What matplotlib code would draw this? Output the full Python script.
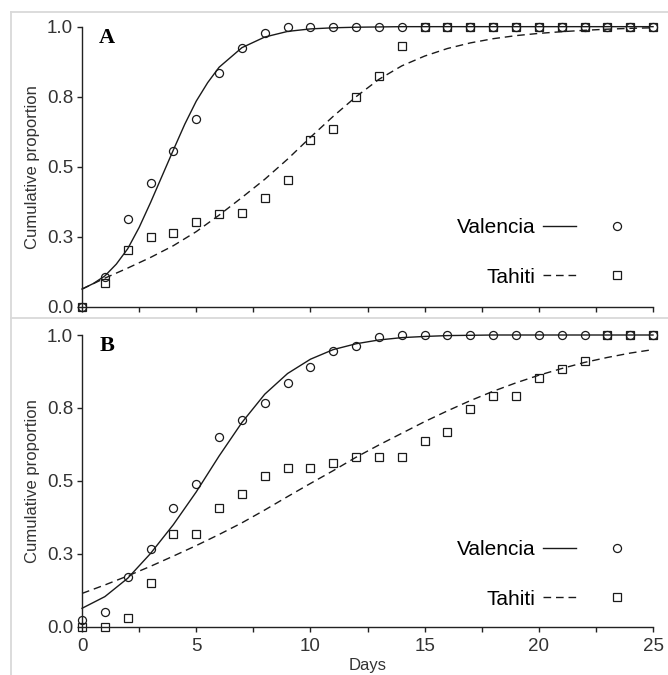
import numpy as np
import matplotlib
matplotlib.use("Agg")
import matplotlib.pyplot as plt
from matplotlib.lines import Line2D
from matplotlib.legend_handler import HandlerTuple
from matplotlib.ticker import MultipleLocator

plt.rcParams['font.family'] = ['Liberation Sans', 'DejaVu Sans']

days = list(range(26))

# panel A observed proportions
valencia_a = [0.0, 0.105, 0.312, 0.44, 0.556, 0.671, 0.833, 0.923, 0.976, 1.0,
              1.0, 1.0, 1.0, 1.0, 1.0, 1.0, 1.0, 1.0, 1.0, 1.0,
              1.0, 1.0, 1.0, 1.0, 1.0, 1.0]
tahiti_a = [0.0, 0.083, 0.202, 0.25, 0.265, 0.304, 0.33, 0.333, 0.387, 0.452,
            0.595, 0.633, 0.75, 0.824, 0.931, 1.0, 1.0, 1.0, 1.0, 1.0,
            1.0, 1.0, 1.0, 1.0, 1.0, 1.0]

# panel A fitted curves
valencia_a_fit_x = [0, 0.5, 1, 1.5, 2, 2.5, 3, 3.5, 4, 4.5, 5, 5.5, 6, 7, 8, 9, 10, 11, 12, 14, 25]
valencia_a_fit = [0.063, 0.083, 0.110, 0.152, 0.207, 0.283, 0.372, 0.466, 0.560, 0.652,
                  0.734, 0.800, 0.855, 0.925, 0.963, 0.983, 0.992, 0.996, 0.998, 1.0, 1.0]
tahiti_a_fit_x = days
tahiti_a_fit = [0.063, 0.102, 0.138, 0.176, 0.218, 0.268, 0.327, 0.39, 0.455, 0.527,
                0.605, 0.68, 0.75, 0.812, 0.86, 0.895, 0.922, 0.942, 0.957, 0.968,
                0.976, 0.982, 0.987, 0.991, 0.994, 0.996]

# panel B observed proportions
valencia_b = [0.023, 0.05, 0.169, 0.267, 0.406, 0.489, 0.649, 0.709, 0.768, 0.834,
              0.889, 0.945, 0.962, 0.994, 1.0, 1.0, 1.0, 1.0, 1.0, 1.0,
              1.0, 1.0, 1.0, 1.0, 1.0, 1.0]
tahiti_b = [0.0, 0.0, 0.031, 0.151, 0.319, 0.319, 0.408, 0.454, 0.517, 0.545,
            0.545, 0.562, 0.581, 0.581, 0.581, 0.638, 0.669, 0.745, 0.791, 0.791,
            0.851, 0.882, 0.912, 1.0, 1.0, 1.0]

# panel B fitted curves
valencia_b_fit_x = days
valencia_b_fit = [0.063, 0.103, 0.166, 0.251, 0.35, 0.462, 0.585, 0.700, 0.797, 0.868,
                  0.917, 0.950, 0.970, 0.983, 0.991, 0.995, 0.998, 0.999, 1.0, 1.0,
                  1.0, 1.0, 1.0, 1.0, 1.0, 1.0]
tahiti_b_fit_x = days
tahiti_b_fit = [0.114, 0.143, 0.174, 0.207, 0.242, 0.278, 0.316, 0.356, 0.400, 0.446,
                0.491, 0.535, 0.581, 0.623, 0.663, 0.703, 0.740, 0.775, 0.807, 0.836,
                0.862, 0.885, 0.906, 0.923, 0.938, 0.950]

y_ticks = [0.0, 0.25, 0.5, 0.75, 1.0]
y_labels = ['0.0', '0.3', '0.5', '0.8', '1.0']
x_ticks = [0, 5, 10, 15, 20, 25]

DASH = (5.5, 3.5)
INK = '#1a1a1a'


def draw_panel(ax, letter, v_obs, t_obs, v_fx, v_fit, t_fx, t_fit, show_x, leg_y):
    ax.plot(v_fx, v_fit, color=INK, lw=1.0, clip_on=False)
    ax.plot(t_fx, t_fit, color=INK, lw=1.0, dashes=DASH, clip_on=False)
    ax.plot(days, v_obs, ls='none', marker='o', ms=5.8, mfc='none', mec=INK,
            mew=0.9, clip_on=False)
    ax.plot(days, t_obs, ls='none', marker='s', ms=5.5, mfc='none', mec=INK,
            mew=0.9, clip_on=False)

    ax.set_xlim(0, 25)
    ax.set_ylim(0, 1)
    for s in ['top', 'right']:
        ax.spines[s].set_visible(False)
    for s in ['left', 'bottom']:
        ax.spines[s].set_linewidth(1.0)
        ax.spines[s].set_color('#222222')

    ax.set_yticks(y_ticks)
    ax.set_yticklabels(y_labels)
    ax.set_xticks(x_ticks)
    ax.xaxis.set_minor_locator(MultipleLocator(2.5))
    ax.tick_params(axis='both', which='both', direction='out', length=3.5,
                   width=1.0, color='#222222', labelsize=13.5, labelcolor='#333333', pad=3)
    ax.tick_params(axis='x', pad=5)
    if not show_x:
        ax.tick_params(axis='x', labelbottom=False)
    else:
        ax.set_xlabel('Days', fontsize=12, color='#333333', labelpad=2)
    ax.set_ylabel('Cumulative proportion', fontsize=12, color='#333333', labelpad=5)

    ax.text(0.03, 0.995, letter, transform=ax.transAxes, ha='left', va='top',
            fontsize=16, fontweight='bold', family='Liberation Serif')

    h_v = (Line2D([], [], color=INK, lw=1.0),
           Line2D([], [], ls='none', marker='o', ms=5.8, mfc='none', mec=INK, mew=0.9))
    h_t = (Line2D([], [], color=INK, lw=1.0, dashes=DASH),
           Line2D([], [], ls='none', marker='s', ms=5.5, mfc='none', mec=INK, mew=0.9))
    ax.legend([h_v, h_t], ['Valencia', 'Tahiti'],
              handler_map={tuple: HandlerTuple(ndivide=None, pad=1.15)},
              markerfirst=False, frameon=False, fontsize=15, handlelength=4.3,
              loc='lower right', bbox_to_anchor=(0.965, leg_y), borderpad=0,
              borderaxespad=0, labelspacing=1.45, handletextpad=0.4)


fig = plt.figure(figsize=(6.68, 6.75), dpi=100)
ax_a = fig.add_axes([0.1228, 0.5456, 0.8548, 0.4149])
ax_b = fig.add_axes([0.1228, 0.0716, 0.8548, 0.4321])

draw_panel(ax_a, 'A', valencia_a, tahiti_a, valencia_a_fit_x, valencia_a_fit,
           tahiti_a_fit_x, tahiti_a_fit, False, 0.072)
draw_panel(ax_b, 'B', valencia_b, tahiti_b, valencia_b_fit_x, valencia_b_fit,
           tahiti_b_fit_x, tahiti_b_fit, True, 0.062)

# light gray panel frames
frame = dict(transform=fig.transFigure, color='#d9d9d9', lw=1.3)
fig.add_artist(Line2D([0.0165, 1.0], [0.982, 0.982], **frame))
fig.add_artist(Line2D([0.0165, 1.0], [0.5296, 0.5296], **frame))
fig.add_artist(Line2D([0.0165, 0.0165], [0.0, 0.982], **frame))

fig.savefig('out.png', dpi=100)
